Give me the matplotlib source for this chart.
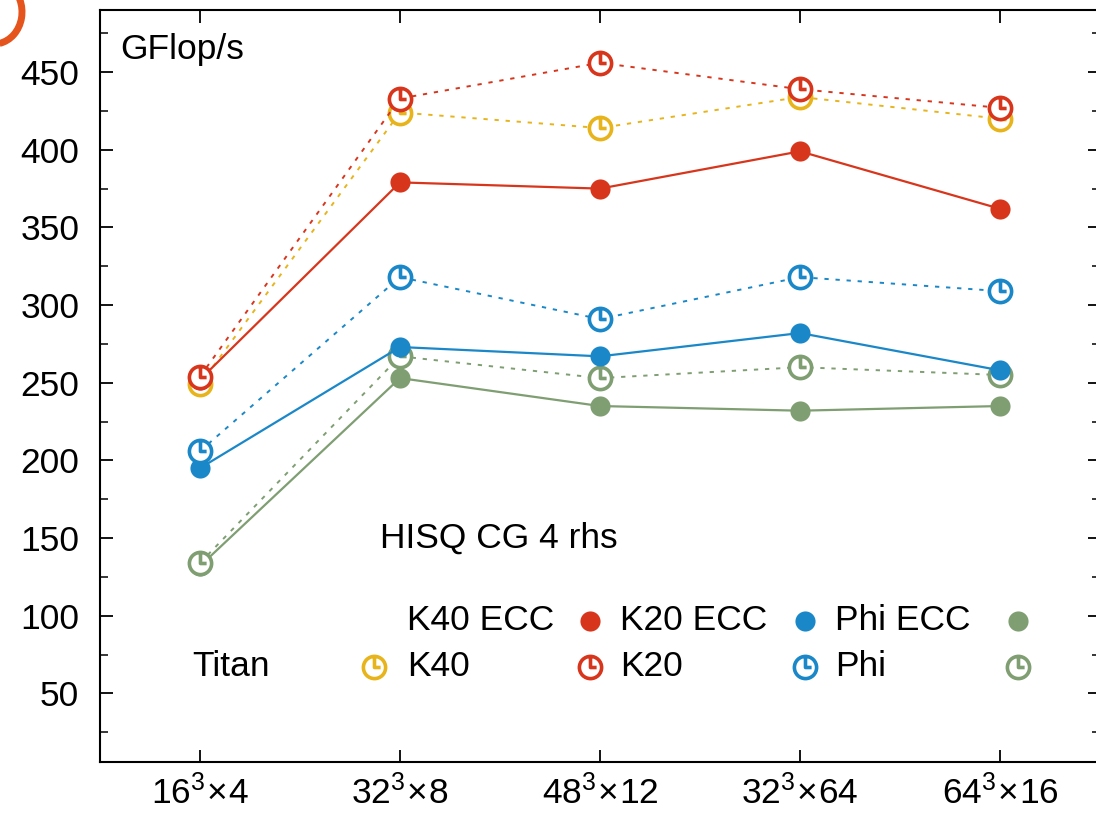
import numpy as np
import matplotlib
matplotlib.use("Agg")
import matplotlib.pyplot as plt
from matplotlib.path import Path
from matplotlib.patches import Arc

plt.rcParams['font.family'] = ['Liberation Sans', 'DejaVu Sans']
plt.rcParams['mathtext.fontset'] = 'custom'
plt.rcParams['mathtext.rm'] = 'Liberation Sans'
plt.rcParams['mathtext.it'] = 'Liberation Sans'

# ---- data ----
lattices = [r'$\mathregular{16^3\!\times\!4}$', r'$\mathregular{32^3\!\times\!8}$',
            r'$\mathregular{48^3\!\times\!12}$', r'$\mathregular{32^3\!\times\!64}$',
            r'$\mathregular{64^3\!\times\!16}$']
xpos = [1, 2, 3, 4, 5]

titan      = [249, 424, 414, 434, 420]   # yellow, open
k40_ecc    = [252, 379, 375, 399, 362]   # red, filled
k40        = [254, 433, 456, 439, 427]   # red, open
k20_ecc    = [195, 273, 267, 282, 258]   # blue, filled
k20        = [206, 318, 291, 318, 309]   # blue, open
phi_ecc    = [132, 253, 235, 232, 235]   # green, filled
phi        = [134, 267, 253, 260, 255]   # green, open

yticks = [50, 100, 150, 200, 250, 300, 350, 400, 450]

YEL = '#e8b41c'
RED = '#d8361c'
BLU = '#1a88c8'
GRN = '#7f9e72'

# clock-like open marker: circle + hand from top to centre + hand to right
circ = Path.unit_circle()
verts = list(circ.vertices) + [(0, 1), (0, 0), (0.55, 0)]
codes = list(circ.codes) + [Path.MOVETO, Path.LINETO, Path.LINETO]
clock = Path(verts, codes)

fig = plt.figure(figsize=(10.96, 8.24), dpi=100)
ax = fig.add_axes([100/1096, 1-762/824, 1000/1096, 752/824])

dot = dict(linestyle=(0, (2.2, 3.5)), lw=1.4)
sol = dict(linestyle='-', lw=1.6)
open_m = dict(marker=clock, ms=16, mew=2.6, mfc='white')
fill_m = dict(marker='o', ms=14.5, mew=0)

ax.plot(xpos, titan, color=YEL, **dot, **open_m, zorder=3)
ax.plot(xpos, phi_ecc, color=GRN, **sol, **fill_m, zorder=3)
ax.plot(xpos, phi, color=GRN, **dot, **open_m, zorder=3)
ax.plot(xpos, k20_ecc, color=BLU, **sol, **fill_m, zorder=4)
ax.plot(xpos, k20, color=BLU, **dot, **open_m, zorder=4)
ax.plot(xpos, k40_ecc, color=RED, **sol, **fill_m, zorder=5)
ax.plot(xpos, k40, color=RED, **dot, **open_m, zorder=5)

fs = 25.5
ax.set_xlim(0.5, 5.5)
ax.set_ylim(5.8, 490)
ax.set_xticks(xpos)
ax.set_xticklabels(lattices)
ax.set_yticks(yticks)
ax.set_yticks([25 + 50*i for i in range(10)], minor=True)
ax.tick_params(axis='both', which='major', direction='in', length=9, width=1.3,
               labelsize=fs, top=True, right=True, pad=15)
ax.tick_params(axis='y', which='minor', direction='in', length=6, width=1.1, right=True)
ax.tick_params(axis='x', pad=9)
for s in ax.spines.values():
    s.set_linewidth(1.5)

fig.text(120/1096, 1-50/824, 'GFlop/s', fontsize=fs, va='center', ha='left')
fig.text(380/1096, 1-538/824, 'HISQ CG 4 rhs', fontsize=fs, va='center', ha='left')

# legend (manual, gnuplot style: text then sample)
def ftx(x, y, s):
    fig.text(x/1096, 1-y/824, s, fontsize=fs, va='center', ha='left')

def fmk(x, y, color, filled):
    style = fill_m if filled else open_m
    fig.lines.append(plt.Line2D([x/1096], [1-y/824], transform=fig.transFigure,
                                color=color, linestyle='none', **style))

r1, r2 = 621, 667
ftx(407, r1, 'K40 ECC'); fmk(590, r1, RED, True)
ftx(620, r1, 'K20 ECC'); fmk(805, r1, BLU, True)
ftx(835, r1, 'Phi ECC'); fmk(1018, r1, GRN, True)
ftx(192, r2, 'Titan'); fmk(374, r2, YEL, False)
ftx(407, r2, 'K40'); fmk(590, r2, RED, False)
ftx(620, r2, 'K20'); fmk(805, r2, BLU, False)
ftx(835, r2, 'Phi'); fmk(1018, r2, GRN, False)

# orange corner decoration
arc = Arc((-6, 824-12), 56, 64, theta1=-80, theta2=60, transform=None,
          color='#e4541c', lw=5)
fig.patches.append(arc)

fig.savefig('out.png', dpi=100)
